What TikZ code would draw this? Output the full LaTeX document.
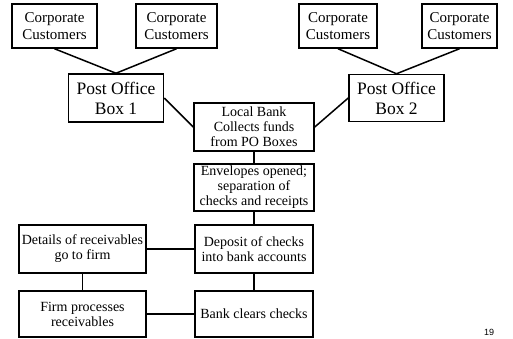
\documentclass[tikz,border=0pt]{standalone}
\usepackage{fontspec}
\setmainfont{Liberation Serif}
\newfontfamily\pagefont{Liberation Sans}
\usetikzlibrary{shapes.geometric}

\begin{document}
\begin{tikzpicture}
                        [
                            x=1pt, y=-1pt,
                            smallbox/.style = {draw, shape=rectangle, align=center, inner sep=1pt, line width=1.5pt, font=\fontsize{14}{15}\selectfont},
                            custbox/.style = {draw, shape=rectangle, align=center, inner sep=1pt, line width=1.5pt, font=\fontsize{15}{17}\selectfont, minimum height=44pt},
                            bigbox/.style = {draw, shape=rectangle, align=center, inner sep=1pt, line width=1.5pt, font=\fontsize{17.5}{20}\selectfont},
                            link/.style = {line width=1.5pt},
                        ]
                        \useasboundingbox (0,0) rectangle (513,339);

                        \node[custbox, minimum width=85pt] (cust1) at (54.5,26)   {Corporate\\Customers};
                        \node[custbox, minimum width=81pt] (cust2) at (176.5,26)  {Corporate\\Customers};
                        \node[custbox, minimum width=78pt] (cust3) at (338,26)    {Corporate\\Customers};
                        \node[custbox, minimum width=75pt] (cust4) at (459.5,26)  {Corporate\\Customers};

                        \node[bigbox, minimum width=95pt, minimum height=48pt] (box1) at (116,98)     {Post Office\\Box 1};
                        \node[bigbox, minimum width=95pt, minimum height=47pt] (box2) at (396.5,98)   {Post Office\\Box 2};

                        \node[smallbox, minimum width=120pt, minimum height=48pt] (bank) at (254,127)      {Local Bank\\Collects funds\\from PO Boxes};
                        \node[smallbox, minimum width=120pt, minimum height=47pt] (open) at (254,187.5)    {Envelopes opened;\\separation of\\checks and receipts};
                        \node[smallbox, minimum width=118pt, minimum height=48pt] (deposit) at (254,249)   {Deposit of checks\\into bank accounts};
                        \node[smallbox, minimum width=118pt, minimum height=46pt] (clears) at (254,314)    {Bank clears checks};
                        \node[smallbox, minimum width=127pt, minimum height=48pt] (details) at (82.5,249)  {Details of receivables\\go to firm};
                        \node[smallbox, minimum width=127pt, minimum height=46pt] (firm) at (82.5,314)     {Firm processes\\receivables};

                        \node[font=\pagefont\fontsize{9}{10}\selectfont, inner sep=0pt] (page) at (489,332) {19};

                        \draw [link] (cust1.south) -- (box1.north);
                        \draw [link] (cust2.south) -- (box1.north);
                        \draw [link] (cust3.south) -- (box2.north);
                        \draw [link] (cust4.south) -- (box2.north);

                        \draw [link] (box1.east) -- (bank.west);
                        \draw [link] (box2.west) -- (bank.east);

                        \draw [link] (bank.south) -- (open.north);
                        \draw [link] (open.south) -- (deposit.north);
                        \draw [link] (deposit.south) -- (clears.north);
                        \draw [link] (deposit.west) -- (details.east);
                        \draw [link] (details.south) -- (firm.north);
                        \draw [link] (firm.east) -- (clears.west);

                    \end{tikzpicture}
\end{document}
